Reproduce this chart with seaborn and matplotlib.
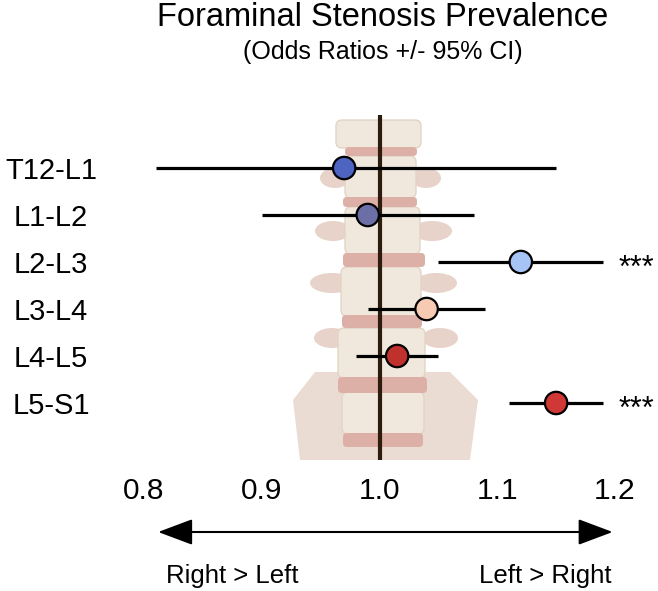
import numpy as np
import pandas as pd
import matplotlib
matplotlib.use("Agg")
from matplotlib import pyplot as plt
from matplotlib import transforms
from matplotlib.patches import FancyBboxPatch, Ellipse, Polygon
import seaborn as sns


levels = ["T12-L1", "L1-L2", "L2-L3", "L3-L4", "L4-L5", "L5-S1"]
odds_ratio = [0.97, 0.99, 1.12, 1.04, 1.015, 1.15]
ci_low = [0.81, 0.90, 1.05, 0.99, 0.98, 1.11]
ci_high = [1.15, 1.08, 1.19, 1.09, 1.05, 1.19]
signif = ["", "", "***", "", "", "***"]
point_colors = ["#4d64c0", "#6c6fa6", "#a6c4f5", "#f6cab3", "#c0302d", "#cf3834"]
x_ticks = [0.8, 0.9, 1.0, 1.1, 1.2]

df = pd.DataFrame({"level": levels, "OR": odds_ratio,
                   "lo": ci_low, "hi": ci_high, "sig": signif})

sns.set_theme(style="white")
plt.rcParams["font.family"] = ["Liberation Sans", "DejaVu Sans"]
plt.rcParams["text.color"] = "black"
plt.rcParams["xtick.color"] = "black"
plt.rcParams["ytick.color"] = "black"

fig = plt.figure(figsize=(6.58, 5.91), dpi=100)

# rough spine sketch behind the plot (pixel units, decoration only)
bg = fig.add_axes([0, 0, 1, 1], zorder=0)
bg.set_xlim(0, 658)
bg.set_ylim(591, 0)
bg.axis("off")

body = "#f0e8dc"
disc = "#ddb0a7"
wing = "#e8d3ca"
bg.add_patch(Polygon([[300, 460], [293, 400], [315, 372], [450, 372],
                      [478, 400], [470, 460]], closed=True,
                     fc="#eadbd3", ec="none"))
for yc, lx, lw_, rx, rw_ in [(178, 335, 30, 426, 30), (231, 333, 36, 432, 40),
                             (283, 332, 44, 436, 42), (338, 332, 36, 440, 36)]:
    bg.add_patch(Ellipse((lx, yc), lw_, 20, fc=wing, ec="none"))
    bg.add_patch(Ellipse((rx, yc), rw_, 20, fc=wing, ec="none"))
for y0, y1, x0, x1 in [(120, 148, 336, 421), (156, 198, 345, 416),
                       (207, 254, 345, 420), (267, 316, 341, 421),
                       (328, 378, 338, 425), (392, 434, 342, 424)]:
    bg.add_patch(FancyBboxPatch((x0, y0), x1 - x0, y1 - y0,
                                boxstyle="round,pad=0,rounding_size=6",
                                fc=body, ec="#e2d4c6", lw=1))
for y0, y1, x0, x1 in [(147, 156, 345, 417), (197, 207, 343, 417),
                       (253, 267, 343, 425), (315, 328, 342, 422),
                       (377, 393, 338, 427), (433, 447, 343, 423)]:
    bg.add_patch(FancyBboxPatch((x0, y0), x1 - x0, y1 - y0,
                                boxstyle="round,pad=0,rounding_size=4",
                                fc=disc, ec="none"))

ax = fig.add_axes([144 / 658, 1 - 460 / 591, 471 / 658, 345 / 591], zorder=1)
ax.patch.set_alpha(0)

ax.axvline(1.0, color="#2d1b0e", lw=3, zorder=1)
ax.hlines(y=np.arange(len(df)), xmin=df.lo, xmax=df.hi, color="black",
          lw=2.3, zorder=2)
sns.scatterplot(data=df, x="OR", y="level", hue="level", palette=point_colors,
                s=260, edgecolor="black", linewidth=1.6, legend=False,
                zorder=3, ax=ax)

for i, s in enumerate(df.sig):
    if s:
        ax.text(1.218, i + 0.31, s, ha="center", va="baseline",
                fontsize=22, clip_on=False)

ax.set_xlim(0.8, 1.2)
ax.set_ylim(len(df) + 0.213, -1.128)
ax.set_xticks(x_ticks)
ax.set_xticklabels([f"{t:.1f}" for t in x_ticks], fontsize=21.5)
ax.set_yticks(range(len(df)))
ax.set_yticklabels(levels, fontsize=21, ha="center")
ax.tick_params(axis="y", length=0, pad=67)
ax.tick_params(axis="x", length=0, pad=12)
ax.set_xlabel("")
ax.set_ylabel("")
sns.despine(ax=ax, left=True, bottom=True)

# direction arrows under the axis
trans = transforms.blended_transform_factory(ax.transData, fig.transFigure)
arrow_y = 1 - 532 / 591
for end in [0.812, 1.198]:
    ax.annotate("", xy=(end, arrow_y), xytext=(1.001, arrow_y),
                xycoords=trans, textcoords=trans, annotation_clip=False,
                arrowprops=dict(arrowstyle="-|>,head_length=0.4,head_width=0.15",
                                mutation_scale=54, lw=1.5, color="black",
                                shrinkA=0, shrinkB=0))
fig.text(232 / 658, 1 - 583 / 591, "Right > Left", ha="center",
         va="baseline", fontsize=18.5)
fig.text(545 / 658, 1 - 583 / 591, "Left > Right", ha="center",
         va="baseline", fontsize=18.5)

fig.text(383 / 658, 1 - 26 / 591, "Foraminal Stenosis Prevalence",
         ha="center", va="baseline", fontsize=23.5)
fig.text(383 / 658, 1 - 59 / 591, "(Odds Ratios +/- 95% CI)",
         ha="center", va="baseline", fontsize=18)

fig.savefig("out.png", dpi=100)
